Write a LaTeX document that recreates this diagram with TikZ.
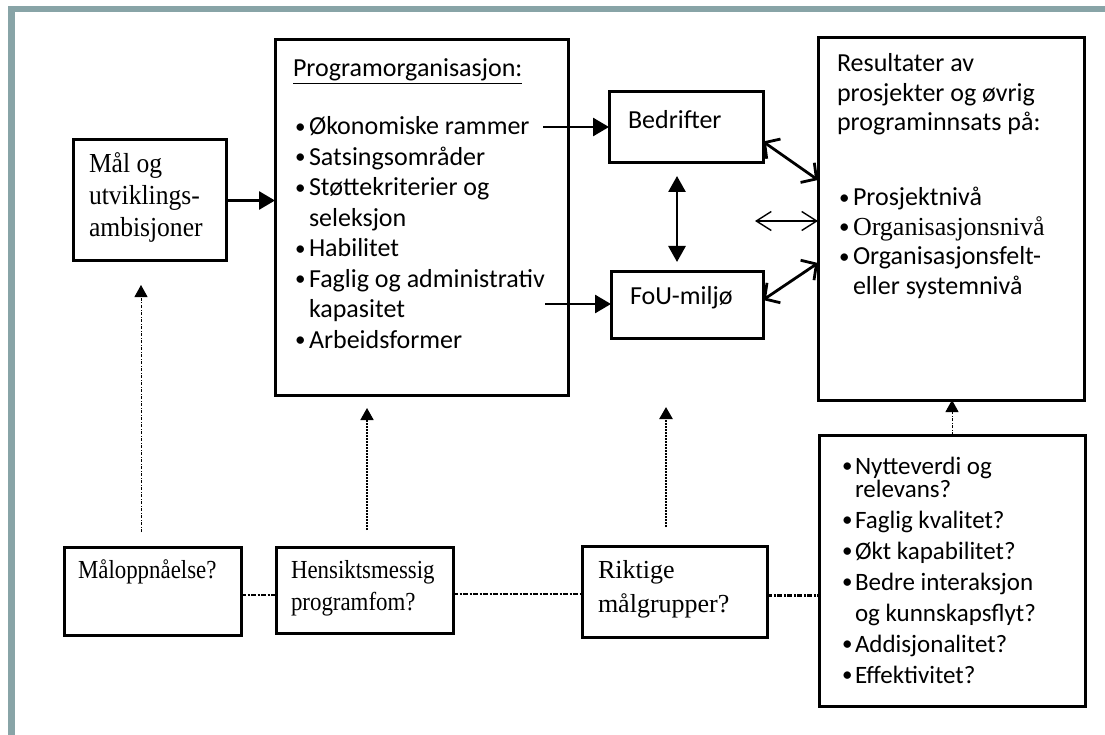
\documentclass[tikz,border=0pt]{standalone}
\usepackage{fontspec}
\setmainfont{Liberation Serif}
\newfontfamily\carl{Carlito}
\newfontfamily\serifc[FakeStretch=0.88]{Liberation Serif}
\newfontfamily\serifd[FakeStretch=0.93]{Liberation Serif}
\usetikzlibrary{arrows.meta}
\definecolor{framec}{RGB}{136,164,167}
\newcommand{\bulmark}{\raisebox{1.5pt}{\fontsize{21}{21}\selectfont\textbullet}}
\newcommand{\bul}{\makebox[16pt][l]{\hspace*{2pt}\bulmark}}
\newcommand{\bulq}{\makebox[13pt][l]{\bulmark}}
\newcommand{\ind}{\hspace*{16pt}}
\newcommand{\indq}{\hspace*{13pt}}
\newcommand{\lns}[1]{\begin{tabular}[t]{@{}l@{}}#1\end{tabular}}
\tikzset{
  box/.style={draw, line width=3pt, rectangle, anchor=north west, inner sep=0pt, outer sep=0pt},
  txt/.style={anchor=base west, inner sep=0pt, outer sep=0pt},
  sanstxt/.style={txt, font=\carl\fontsize{26}{30.5}\selectfont},
  solidarrow/.style={line width=2.8pt, -{Triangle[length=16pt,width=18pt]}},
  vdouble/.style={line width=2.8pt, {Triangle[length=16pt,width=17pt]}-{Triangle[length=16pt,width=17pt]}},
  barbdouble/.style={line width=2.8pt, {Straight Barb[length=11pt,width=24pt]}-{Straight Barb[length=11pt,width=24pt]}},
  thindouble/.style={line width=1.4pt, {Straight Barb[length=15pt,width=19pt]}-{Straight Barb[length=15pt,width=19pt]}},
  thinup/.style={line width=0.9pt, dash pattern=on 3pt off 1.5pt on 1pt off 1.5pt, -{Triangle[length=12pt,width=13pt]}},
  medup/.style={line width=1.8pt, dash pattern=on 2pt off 1pt, -{Triangle[length=12pt,width=13pt]}},
  thickup/.style={line width=2.4pt, dash pattern=on 2pt off 1pt, -{Triangle[length=12pt,width=13pt]}},
  hlink/.style={line width=2.8pt, dash pattern=on 5pt off 1.5pt on 2pt off 1.5pt}
}
\begin{document}
\begin{tikzpicture}[x=1pt,y=-1pt]
\useasboundingbox (0,0) rectangle (1105,735);
% frame
\fill[framec] (8,6) rectangle (15,735);
\fill[framec] (8,6) rectangle (1105,12);

% boxes
\node[box, minimum width=153pt, minimum height=121pt] (mal) at (73,140) {};
\node[box, minimum width=293pt, minimum height=355pt] (prog) at (275,40) {};
\node[box, minimum width=154pt, minimum height=71pt] (bed) at (609,92) {};
\node[box, minimum width=152pt, minimum height=66pt] (fou) at (611,272) {};
\node[box, minimum width=266pt, minimum height=362pt] (res) at (818,38) {};
\node[box, minimum width=177pt, minimum height=88pt] (malopp) at (64,547) {};
\node[box, minimum width=177pt, minimum height=86pt] (hens) at (276,547) {};
\node[box, minimum width=185pt, minimum height=91pt] (rikt) at (582,546) {};
\node[box, minimum width=266pt, minimum height=271pt] (q) at (819,435) {};

% texts
\node[txt, font=\serifd\fontsize{27.5}{32}\selectfont] (maltxt) at (89,173) {\lns{Mål og\\utviklings-\\ambisjoner}};
\node[sanstxt] (progtxt) at (293,77) {\lns{\underline{Programorganisasjon:}\\[27.5pt]
\bul Økonomiske rammer\\
\bul Satsingsområder\\
\bul Støttekriterier og\\
\ind seleksjon\\
\bul Habilitet\\
\bul Faglig og administrativ\\
\ind kapasitet\\
\bul Arbeidsformer}};
\node[sanstxt] (bedtxt) at (628,129) {Bedrifter};
\node[sanstxt] (foutxt) at (630,305) {FoU-miljø};
\node[txt, font=\carl\fontsize{26}{29.5}\selectfont] (restxt) at (837,72) {\lns{Resultater av\\
prosjekter og øvrig\\
programinnsats på:\\[45.5pt]
\bul Prosjektnivå\\
\bul {\rmfamily Organisasjonsnivå}\\
\bul Organisasjonsfelt-\\
\ind eller systemnivå}};
\node[txt, font=\serifc\fontsize{26}{32}\selectfont] (maloppt) at (78,578) {Måloppnåelse?};
\node[txt, font=\serifc\fontsize{26}{32}\selectfont] (henst) at (291,578) {\lns{Hensiktsmessig\\programfom?}};
\node[txt, font=\fontsize{26}{34}\selectfont] (riktt) at (598,578) {\lns{Riktige\\målgrupper?}};
\node[txt, font=\carl\fontsize{25}{31}\selectfont] (qt) at (842,474) {\lns{\bulq Nytteverdi og\\[-8pt]
\indq relevans?\\
\bulq Faglig kvalitet?\\
\bulq Økt kapabilitet?\\
\bulq Bedre interaksjon\\
\indq og kunnskapsflyt?\\
\bulq Addisjonalitet?\\
\bulq Effektivitet?}};

% solid connectors
\draw[solidarrow] (mal.east) -- (mal.east -| prog.west);
\coordinate (okstart) at (543,127);
\draw[solidarrow] (okstart) -- (okstart -| bed.west);
\coordinate (fagstart) at (545,304);
\draw[solidarrow] (fagstart) -- (fagstart -| fou.west);
\draw[vdouble] ([xshift=-9pt,yshift=-13pt]bed.south) -- ([xshift=-10pt,yshift=10pt]fou.north);
\draw[barbdouble] ([yshift=-14pt]bed.east) -- ([yshift=39pt]res.west);
\draw[barbdouble] ([yshift=5pt]fou.east) -- ([yshift=-44pt]res.west);
\draw[thindouble] ([xshift=-63pt,yshift=-2pt]res.west) -- ([yshift=-2pt]res.west);

% dotted upward arrows
\draw[thinup] ([xshift=-11.5pt,yshift=15pt]malopp.north) -- ([xshift=-8.5pt,yshift=-24pt]mal.south);
\draw[medup] ([xshift=2.5pt,yshift=17pt]hens.north) -- ([xshift=2.5pt,yshift=-13pt]hens.north |- prog.south);
\draw[thickup] ([xshift=-8.5pt,yshift=19pt]rikt.north) -- ([xshift=-8.5pt,yshift=-69pt]rikt.north |- fou.south);
\draw[thinup] (q.north) -- (q.north |- res.south);

% horizontal links
\draw[hlink] ([yshift=-4pt]malopp.east) -- ([yshift=-4pt]malopp.east -| hens.west);
\draw[hlink] ([yshift=-4pt]hens.east) -- ([yshift=-4pt]hens.east -| rikt.west);
\draw[hlink] ([yshift=-4pt]rikt.east) -- ([yshift=-4pt]rikt.east -| q.west);
\end{tikzpicture}
\end{document}
